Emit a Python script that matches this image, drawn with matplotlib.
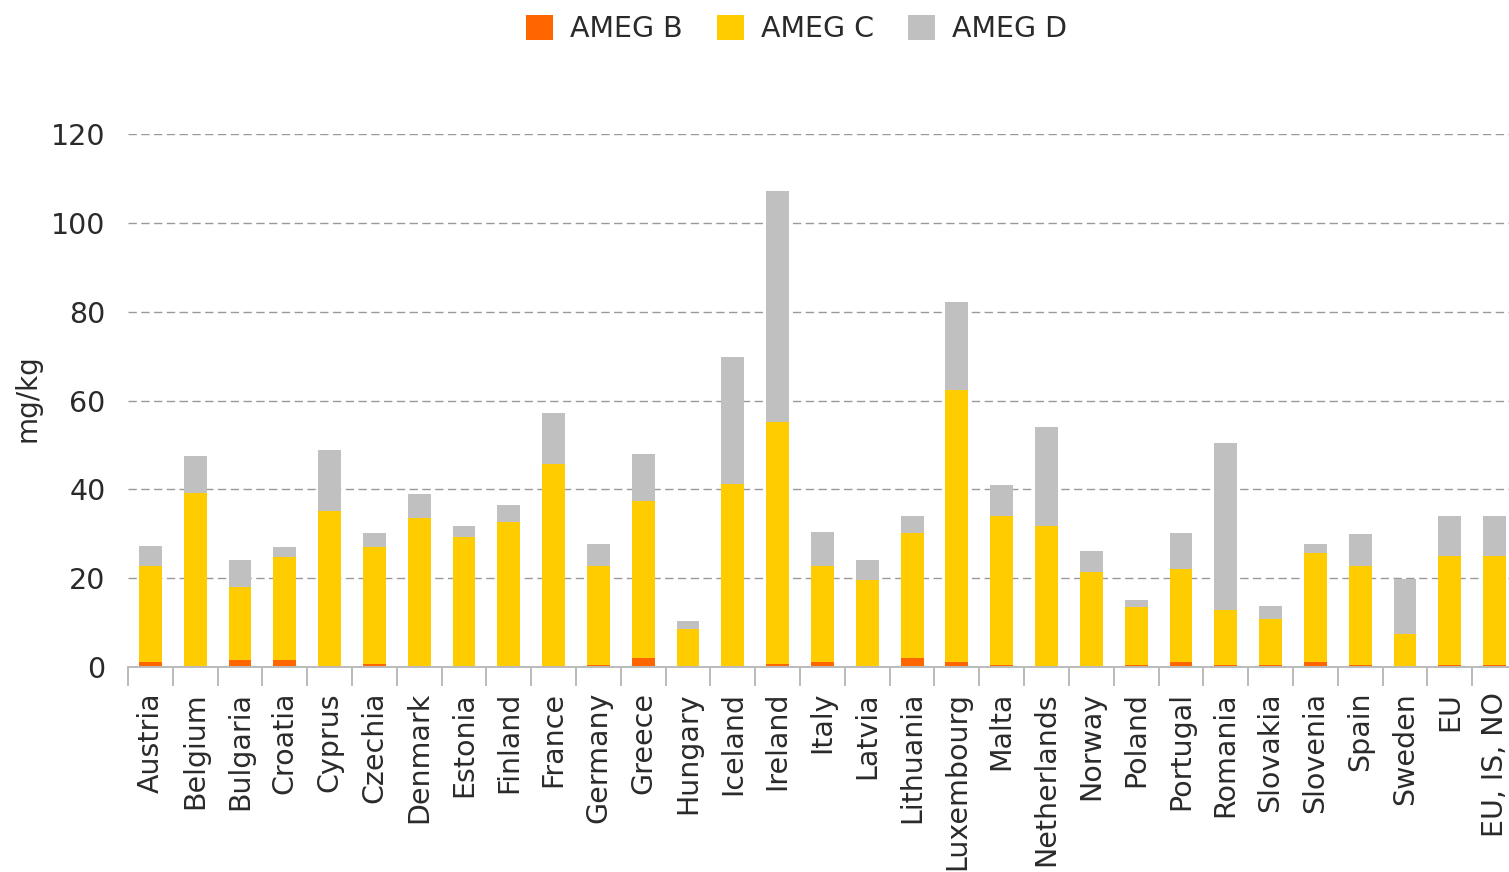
# AMEG residue chart, stacked bars per country
import numpy as np
import matplotlib
matplotlib.use("Agg")
import matplotlib.pyplot as plt

# ---------------------------
# Data (mg/kg)
# ---------------------------
countries = ["Austria", "Belgium", "Bulgaria", "Croatia", "Cyprus", "Czechia",
             "Denmark", "Estonia", "Finland", "France", "Germany", "Greece",
             "Hungary", "Iceland", "Ireland", "Italy", "Latvia", "Lithuania",
             "Luxembourg", "Malta", "Netherlands", "Norway", "Poland", "Portugal",
             "Romania", "Slovakia", "Slovenia", "Spain", "Sweden", "EU",
             "EU, IS, NO"]

ameg_b = [1.1, 0.2, 1.6, 1.5, 0.2, 0.7, 0.2, 0.0, 0.2, 0.2, 0.5, 2.1, 0.2, 0.2,
          0.6, 1.1, 0.2, 2.1, 1.1, 0.5, 0.1, 0.1, 0.5, 1.1, 0.5, 0.5, 1.1, 0.5,
          0.0, 0.5, 0.5]
ameg_c = [21.7, 38.9, 16.5, 23.3, 34.9, 26.4, 33.3, 29.3, 32.5, 45.4, 22.3, 35.3,
          8.4, 40.9, 54.5, 21.7, 19.4, 28.1, 61.2, 33.6, 31.7, 21.4, 13.0, 21.0,
          12.3, 10.3, 24.6, 22.2, 7.5, 24.6, 24.6]
ameg_d = [4.5, 8.5, 5.9, 2.2, 13.7, 3.1, 5.5, 2.4, 3.8, 11.7, 4.9, 10.5,
          1.7, 28.6, 52.1, 7.5, 4.4, 3.7, 19.8, 6.9, 22.3, 4.6, 1.6, 8.1,
          37.6, 3.0, 2.1, 7.3, 12.3, 9.0, 9.0]

series_names = ["AMEG B", "AMEG C", "AMEG D"]
colors = ["#FF6600", "#FFCC00", "#C0C0C0"]
y_ticks = [0, 20, 40, 60, 80, 100, 120]

# ---------------------------
# Figure
# ---------------------------
plt.rcParams["font.family"] = ["DejaVu Sans"]
text_col = "#2a2a2a"
fs = 20.5

fig = plt.figure(figsize=(15.09, 8.72), dpi=100)
ax = fig.add_axes([0.0848, 0.2351, 0.9205, 0.6112])

x = np.arange(len(countries))
b = np.array(ameg_b)
c = np.array(ameg_c)
d = np.array(ameg_d)
w = 0.51

ax.bar(x, b, w, color=colors[0], label=series_names[0], zorder=3)
ax.bar(x, c, w, bottom=b, color=colors[1], label=series_names[1], zorder=3)
ax.bar(x, d, w, bottom=b + c, color=colors[2], label=series_names[2], zorder=3)

ax.set_xlim(-0.5, len(countries) - 0.5)
ax.set_ylim(0, 120)

# grid and spines
ax.set_yticks(y_ticks)
ax.yaxis.grid(True, color="#999999", linewidth=1.0, dashes=(6, 3.2), zorder=0)
ax.set_axisbelow(True)
for s in ["top", "right", "left"]:
    ax.spines[s].set_visible(False)
ax.spines["bottom"].set_color("#BBBBBB")
ax.spines["bottom"].set_linewidth(1.4)
ax.spines["bottom"].set_zorder(4)

# ticks: labels at centres, separators at boundaries
ax.set_xticks(x)
ax.set_xticklabels(countries, rotation=90, fontsize=fs, color=text_col)
ax.set_xticks(np.arange(len(countries) + 1) - 0.5, minor=True)
ax.tick_params(axis="x", which="major", length=0, pad=18)
ax.tick_params(axis="x", which="minor", length=13.5, width=1.4, color="#BBBBBB")
ax.tick_params(axis="y", length=0, pad=16, labelsize=fs, labelcolor=text_col)

ax.set_ylabel("mg/kg", fontsize=20, color=text_col)
ax.yaxis.set_label_coords(-0.062, 0.505)

# legend at top
fig.legend(loc="upper center", bbox_to_anchor=(0.528, 1.012), ncol=3,
           frameon=False, fontsize=fs, handlelength=0.95, handleheight=0.95,
           handletextpad=0.6, columnspacing=1.2, labelcolor=text_col)

fig.savefig("out.png", dpi=100)
